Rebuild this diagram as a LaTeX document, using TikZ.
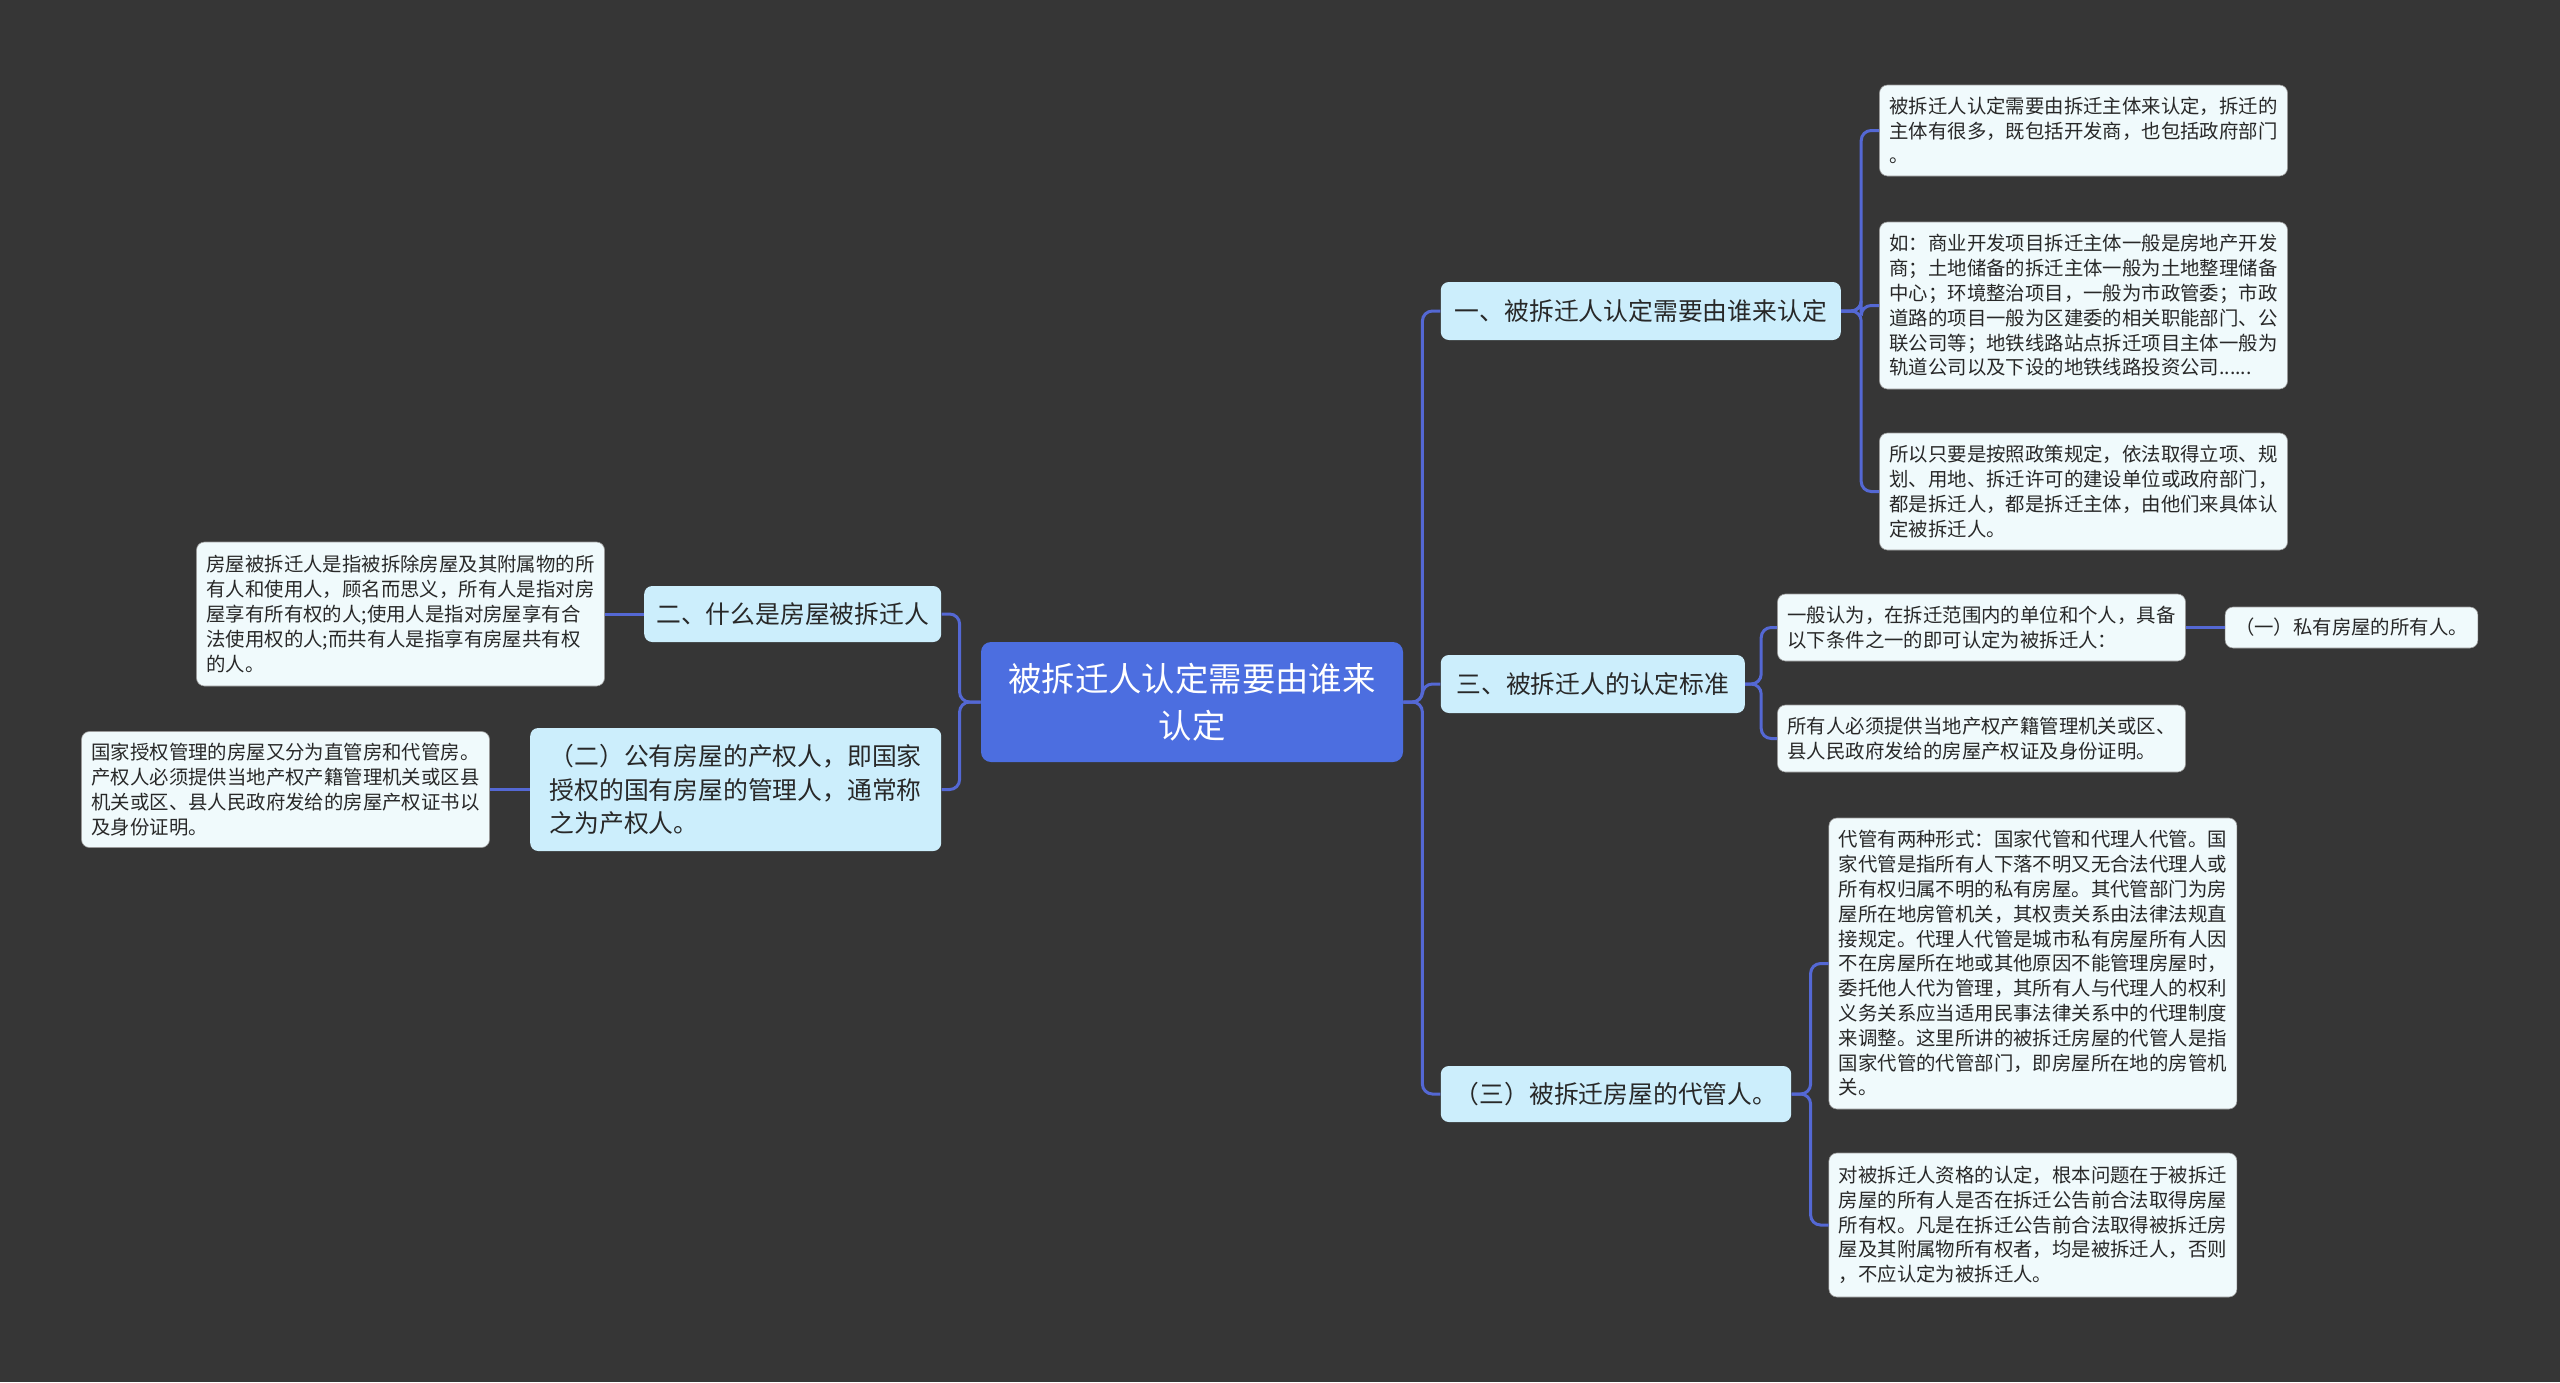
\documentclass[tikz,border=0pt]{standalone}
\usepackage{fontspec}
\setmainfont{Noto Sans CJK SC}
\usepackage{xcolor}
\definecolor{bgdark}{RGB}{54,54,54}
\definecolor{rootblue}{RGB}{76,110,224}
\definecolor{topiccyan}{RGB}{204,238,252}
\definecolor{leafwhite}{RGB}{240,250,252}
\definecolor{linkblue}{RGB}{84,104,212}
\definecolor{textdark}{RGB}{40,40,40}
\usetikzlibrary{positioning}

\begin{document}
\begin{tikzpicture}[
        rootbox/.style={rectangle, fill=rootblue, text=white, rounded corners=5pt,
                    minimum width=211pt, minimum height=60pt, align=center,
                    font=\fontsize{16.7}{23.5}\selectfont},
        topic/.style={rectangle, fill=topiccyan, text=textdark, rounded corners=4pt,
                    minimum height=29pt, inner xsep=7pt, align=left,
                    font=\fontsize{12.4}{16.7}\selectfont},
        leaf/.style={rectangle, fill=leafwhite, draw=black!40, line width=0.3pt,
                    text=textdark, rounded corners=4pt, minimum width=204pt,
                    inner xsep=5pt, align=left, font=\fontsize{9.7}{12.4}\selectfont},
        link/.style={draw=linkblue, line width=1.5pt, rounded corners=5pt}
    ]
        \fill[bgdark] (0,0) rectangle (1280pt,-691pt);
        \useasboundingbox (0,0) rectangle (1280pt,-691pt);

        \node[rootbox] (root) at (596pt,-351pt) {被拆迁人认定需要由谁来\\认定};

        % right side
        \node[topic, right=18.5pt of root, yshift=195.5pt, minimum width=200pt] (one)
              {一、被拆迁人认定需要由谁来认定};
        \node[topic, right=18.5pt of root, yshift=9pt, minimum width=152pt] (three)
              {三、被拆迁人的认定标准};
        \node[topic, right=18.5pt of root, yshift=-196pt, minimum width=175pt, minimum height=28pt] (threeb)
              {（三）被拆迁房屋的代管人。};

        \node[leaf, right=19pt of one, yshift=90.25pt, minimum height=45.5pt] (onea)
              {被拆迁人认定需要由拆迁主体来认定，拆迁的\\主体有很多，既包括开发商，也包括政府部门\\。};
        \node[leaf, right=19pt of one, yshift=2.75pt, minimum height=83.5pt] (oneb)
              {如：商业开发项目拆迁主体一般是房地产开发\\商；土地储备的拆迁主体一般为土地整理储备\\中心；环境整治项目，一般为市政管委；市政\\道路的项目一般为区建委的相关职能部门、公\\联公司等；地铁线路站点拆迁项目主体一般为\\轨道公司以及下设的地铁线路投资公司......};
        \node[leaf, right=19pt of one, yshift=-90.25pt, minimum height=58.5pt] (onec)
              {所以只要是按照政策规定，依法取得立项、规\\划、用地、拆迁许可的建设单位或政府部门，\\都是拆迁人，都是拆迁主体，由他们来具体认\\定被拆迁人。};

        \node[leaf, right=16pt of three, yshift=28.25pt, minimum height=33.5pt] (threea)
              {一般认为，在拆迁范围内的单位和个人，具备\\以下条件之一的即可认定为被拆迁人：};
        \node[leaf, right=19.5pt of threea, minimum width=125.5pt, minimum height=20.5pt] (owner)
              {（一）私有房屋的所有人。};
        \node[leaf, right=16pt of three, yshift=-27.25pt, minimum height=33.5pt] (threec)
              {所有人必须提供当地产权产籍管理机关或区、\\县人民政府发给的房屋产权证及身份证明。};

        \node[leaf, right=18.5pt of threeb, yshift=65.25pt, minimum height=145.5pt] (agenta)
              {代管有两种形式：国家代管和代理人代管。国\\家代管是指所有人下落不明又无合法代理人或\\所有权归属不明的私有房屋。其代管部门为房\\屋所在地房管机关，其权责关系由法律法规直\\接规定。代理人代管是城市私有房屋所有人因\\不在房屋所在地或其他原因不能管理房屋时，\\委托他人代为管理，其所有人与代理人的权利\\义务关系应当适用民事法律关系中的代理制度\\来调整。这里所讲的被拆迁房屋的代管人是指\\国家代管的代管部门，即房屋所在地的房管机\\关。};
        \node[leaf, right=18.5pt of threeb, yshift=-65.5pt, minimum height=72pt] (agentb)
              {对被拆迁人资格的认定，根本问题在于被拆迁\\房屋的所有人是否在拆迁公告前合法取得房屋\\所有权。凡是在拆迁公告前合法取得被拆迁房\\屋及其附属物所有权者，均是被拆迁人，否则\\，不应认定为被拆迁人。};

        % left side
        \node[topic, left=19.5pt of root, yshift=44pt, minimum width=148.5pt, minimum height=28pt,
              inner xsep=5.5pt] (two)
              {二、什么是房屋被拆迁人};
        \node[topic, left=19.5pt of root, yshift=-43.75pt, minimum width=205.5pt, minimum height=61.5pt,
              font=\fontsize{12.4}{16.8}\selectfont] (twob)
              {（二）公有房屋的产权人，即国家\\授权的国有房屋的管理人，通常称\\之为产权人。};

        \node[leaf, left=19.5pt of two, minimum height=72pt] (twoa)
              {房屋被拆迁人是指被拆除房屋及其附属物的所\\有人和使用人，顾名而思义，所有人是指对房\\屋享有所有权的人;使用人是指对房屋享有合\\法使用权的人;而共有人是指享有房屋共有权\\的人。};
        \node[leaf, left=20pt of twob, minimum height=58pt] (twoc)
              {国家授权管理的房屋又分为直管房和代管房。\\产权人必须提供当地产权产籍管理机关或区县\\机关或区、县人民政府发给的房屋产权证书以\\及身份证明。};

        \foreach \t in {one,three,threeb}
            \draw[link] (root.east) -- ++(9.5pt,0) |- (\t.west);
        \foreach \t in {two,twob}
            \draw[link] (root.west) -- ++(-10.5pt,0) |- (\t.east);
        \foreach \l in {onea,oneb,onec}
            \draw[link] (one.east) -- ++(10pt,0) |- (\l.west);
        \foreach \l in {threea,threec}
            \draw[link] (three.east) -- ++(8pt,0) |- (\l.west);
        \foreach \l in {agenta,agentb}
            \draw[link] (threeb.east) -- ++(9.5pt,0) |- (\l.west);
        \draw[link] (threea) -- (owner);
        \draw[link] (two) -- (twoa);
        \draw[link] (twob) -- (twoc);
    \end{tikzpicture}
\end{document}
